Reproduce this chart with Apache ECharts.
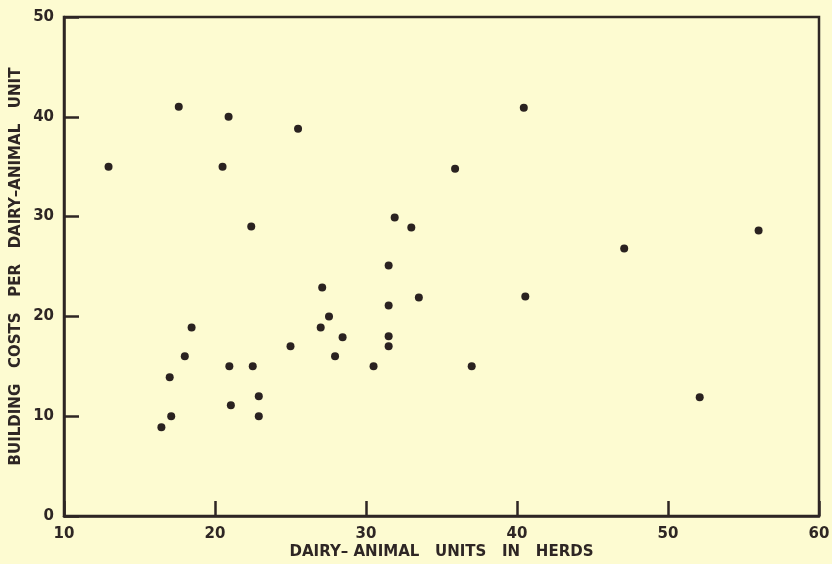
<!DOCTYPE html>
<html>
<head>
<meta charset="utf-8">
<script src="https://cdn.jsdelivr.net/npm/echarts@6/dist/echarts.min.js"></script>
<style>
html,body{margin:0;padding:0;background:#fdfbd1;}
#c{width:832px;height:564px;}
</style>
</head>
<body>
<div id="c"></div>
<script>
const herdSize = [12.95,17.6,20.9,20.5,25.5,22.4,40.45,35.9,33.0,47.1,56.0,33.5,40.55,37.0,52.1,31.9,31.5,27.1,31.5,27.55,18.45,27.0,28.45,31.5,31.5,25.0,18.0,27.95,20.95,22.5,30.5,17.0,22.9,21.05,17.1,22.9,16.45];
const costPerUnit = [35.0,41.0,40.0,35.0,38.8,29.0,40.9,34.8,28.9,26.8,28.6,21.9,22.0,15.0,11.9,29.9,25.1,22.9,21.1,20.0,18.9,18.9,17.9,18.0,17.0,17.0,16.0,16.0,15.0,15.0,15.0,13.9,12.0,11.1,10.0,10.0,8.9];
const xTitle = 'DAIRY\u2013 ANIMAL   UNITS   IN   HERDS';
const yTitle = 'BUILDING   COSTS   PER   DAIRY\u2013ANIMAL   UNIT';

const ink = '#2e2624';
const font = 'DejaVu Sans';
const chart = echarts.init(document.getElementById('c'));
chart.setOption({
  backgroundColor: '#fdfbd1',
  animation: false,
  grid: {left: 64, top: 17, right: 13, bottom: 48, containLabel: false, outerBoundsMode: 'none',
         show: true, borderColor: ink, borderWidth: 2.5, backgroundColor: 'transparent'},
  xAxis: {
    type: 'value', min: 10, max: 60, interval: 10,
    name: xTitle, nameLocation: 'middle', nameGap: 29, nameMoveOverlap: false,
    nameTextStyle: {color: ink, fontFamily: font, fontSize: 15, fontWeight: 'bold'},
    axisLine: {show: true, lineStyle: {color: ink, width: 2.5}},
    axisTick: {show: true, inside: true, length: 15, lineStyle: {color: ink, width: 2.5}},
    axisLabel: {color: ink, fontFamily: font, fontSize: 15, fontWeight: 'bold', margin: 11},
    splitLine: {show: false}
  },
  yAxis: {
    type: 'value', min: 0, max: 50, interval: 10,
    name: yTitle, nameLocation: 'middle', nameGap: 40, nameRotate: 90, nameMoveOverlap: false,
    nameTextStyle: {color: ink, fontFamily: font, fontSize: 15, fontWeight: 'bold'},
    axisLine: {show: true, lineStyle: {color: ink, width: 2.5}},
    axisTick: {show: true, inside: true, length: 15, lineStyle: {color: ink, width: 2.5}},
    axisLabel: {color: ink, fontFamily: font, fontSize: 15, fontWeight: 'bold', margin: 10},
    splitLine: {show: false}
  },
  series: [{
    type: 'scatter',
    data: herdSize.map((x, i) => [x, costPerUnit[i]]),
    symbol: 'circle', symbolSize: 8,
    itemStyle: {color: '#2a2220', opacity: 1}
  }]
});
</script>
</body>
</html>
